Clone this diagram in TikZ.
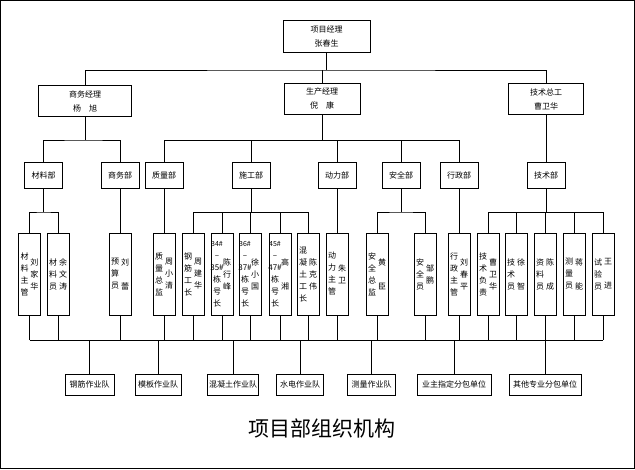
\documentclass[tikz,border=0pt]{standalone}
\usepackage{fontspec}
\newfontfamily\cjk{Noto Sans CJK SC}
\usetikzlibrary{positioning}

\tikzset{
  box/.style={draw, line width=0.8pt, inner sep=0pt, align=center,
    font=\cjk\fontsize{8}{14}\selectfont},
  head/.style={box, minimum height=31},
  dept/.style={box, minimum width=38, minimum height=26},
  staff/.style={box, minimum width=22, minimum height=82},
  team/.style={box, minimum height=21},
  col/.style={inner sep=0pt, align=center, font=\cjk\fontsize{8}{12}\selectfont},
  link/.style={line width=0.8pt},
}

% one staff box: name, x, role column, person column
\NewDocumentCommand{\staffbox}{mmmm}{%
\node[staff] (#1) at (#2,274) {};%
\node[col] (#1r) at ([xshift=-5]#1.center) {#3};%
\node[col] (#1p) at ([xshift=5]#1.center) {#4};%
}

\begin{document}
\begin{tikzpicture}[x=1pt, y=-1pt]
  \useasboundingbox (0,0) rectangle (635,469);
  \draw[line width=0.8pt] (0.4,0.4) rectangle (634.6,468.6);

  \coordinate (busa) at (0,70);
  \coordinate (busb) at (0,140);
  \coordinate (busc) at (0,212);
  \coordinate (busd) at (0,340);

  % managers
  \node[head, minimum width=87, minimum height=32] (xmjl) at (326.5,36) {项目经理\\张春生};
  \node[head, minimum width=93] (swjl) at (85,101) {商务经理\\杨\quad 旭};
  \node[head, minimum width=76] (scjl) at (322,98.5) {生产经理\\倪\quad 康};
  \node[head, minimum width=75] (jszg) at (546,99) {技术总工\\曹卫华};

  % departments
  \node[dept] (cl) at (43.5,175) {材料部};
  \node[dept] (sw) at (120,175) {商务部};
  \node[dept] (zl) at (164,175) {质量部};
  \node[dept] (sg) at (251,175) {施工部};
  \node[dept] (dl) at (337,175) {动力部};
  \node[dept] (aq) at (401,175) {安全部};
  \node[dept] (xz) at (459,175) {行政部};
  \node[dept] (js) at (546,175) {技术部};

  % staff
  \staffbox{cla}{29.5}{材\\料\\主\\管}{刘\\家\\华}
  \staffbox{clb}{58}{材\\料\\员}{余\\文\\涛}
  \staffbox{ys}{120}{预\\算\\员}{刘\\~\\蕾}
  \staffbox{zj}{164}{质\\量\\总\\监}{周\\小\\清}
  \staffbox{gj}{193}{钢\\筋\\工\\长}{周\\建\\华}
  \staffbox{dha}{222}{\fontsize{7}{11}\selectfont 34\#\\–\\35\#\\栋\\号\\长}{陈\\行\\峰}
  \staffbox{dhb}{250}{\fontsize{7}{11}\selectfont 36\#\\–\\37\#\\栋\\号\\长}{徐\\小\\国}
  \staffbox{dhc}{280}{\fontsize{7}{11}\selectfont 45\#\\–\\47\#\\栋\\号\\长}{高\\~\\湘}
  \staffbox{hn}{308}{混\\凝\\土\\工\\长}{陈\\克\\伟}
  \staffbox{dz}{337}{动\\力\\主\\管}{朱\\卫}
  \staffbox{aqa}{377}{安\\全\\总\\监}{黄\\~\\臣}
  \staffbox{aqb}{425}{安\\全\\员}{邹\\鹏}
  \staffbox{xzz}{459}{行\\政\\主\\管}{刘\\春\\平}
  \staffbox{jsa}{488}{技\\术\\负\\责}{曹\\卫\\华}
  \staffbox{jsb}{516}{技\\术\\员}{徐\\~\\智}
  \staffbox{zly}{545}{资\\料\\员}{陈\\~\\成}
  \staffbox{cly}{574}{测\\量\\员}{蒋\\~\\能}
  \staffbox{syy}{603}{试\\验\\员}{王\\~\\进}

  % teams
  \node[team, minimum width=49] (tgj) at (89.5,384.5) {钢筋作业队};
  \node[team, minimum width=46] (tmb) at (158,384.5) {模板作业队};
  \node[team, minimum width=51] (thn) at (233,384.5) {混凝土作业队};
  \node[team, minimum width=47] (tsd) at (300,384.5) {水电作业队};
  \node[team, minimum width=48] (tcl) at (371.5,384.5) {测量作业队};
  \node[team, minimum width=74] (tyz) at (454,384.5) {业主指定分包单位};
  \node[team, minimum width=72] (tqt) at (545,384.5) {其他专业分包单位};

  \node[font=\cjk\fontsize{21}{21}\selectfont] (title) at (322,428) {项目部组织机构};

  % connectors
  \draw[link] (xmjl.south) -- (xmjl.south |- busa);
  \draw[link] (swjl.north) |- (xmjl.south |- busa) -| (jszg.north);
  \draw[link] (scjl.north) -- (scjl.north |- busa);

  \draw[link] (swjl.south) -- (swjl.south |- busb);
  \draw[link] (cl.north) |- (swjl.south |- busb) -| (sw.north);
  \draw[link] (scjl.south) -- (scjl.south |- busb);
  \foreach \n in {zl,sg,dl,aq,xz}
    \draw[link] (scjl.south |- busb) -| (\n.north);
  \draw[link] (jszg.south) -- (js.north);

  \draw[link] (cl.south) -- (cl.south |- busc);
  \draw[link] (cla.north) |- (cl.south |- busc) -| (clb.north);
  \draw[link] (sw.south) -- (ys.north);
  \draw[link] (zl.south) -- (zj.north);
  \draw[link] (sg.south) -- (sg.south |- busc);
  \foreach \n in {gj,dha,dhb,dhc,hn}
    \draw[link] (sg.south |- busc) -| (\n.north);
  \draw[link] (dl.south) -- (dz.north);
  \draw[link] (aq.south) -- (aq.south |- busc);
  \draw[link] (aqa.north) |- (aq.south |- busc) -| (aqb.north);
  \draw[link] (xz.south) -- (xzz.north);
  \draw[link] (js.south) -- (js.south |- busc);
  \foreach \n in {jsa,jsb,zly,cly,syy}
    \draw[link] (js.south |- busc) -| (\n.north);

  \foreach \n in {cla,clb,ys,zj,gj,dha,dhb,dhc,hn,dz,aqa,aqb,xzz,jsa,jsb,zly,cly,syy}
    \draw[link] (\n.south) -- (\n.south |- busd);
  \draw[link] (cla.south |- busd) -- (syy.south |- busd);
  \foreach \n in {tgj,tmb,thn,tsd,tcl,tyz,tqt}
    \draw[link] (\n.north) -- (\n.north |- busd);
\end{tikzpicture}
\end{document}
